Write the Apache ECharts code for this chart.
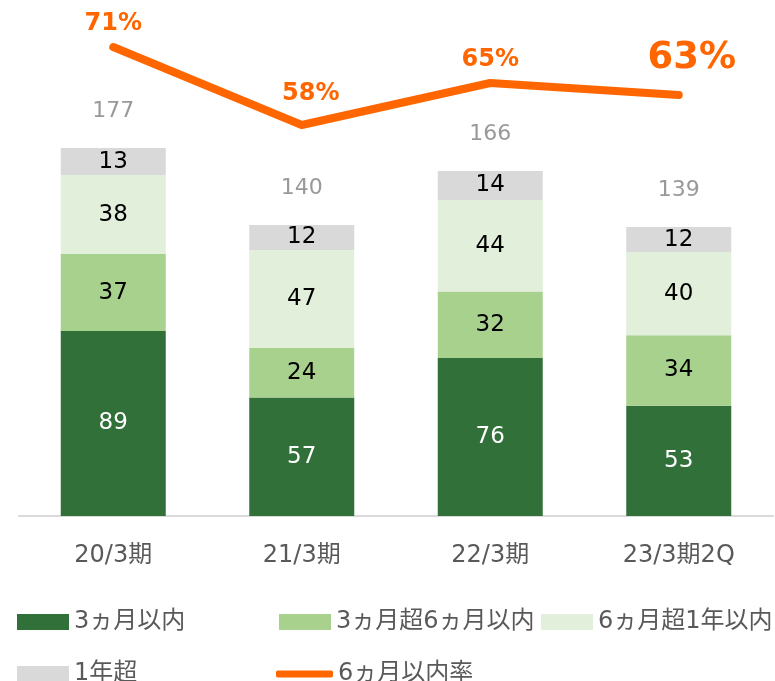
<!DOCTYPE html>
<html>
<head>
<meta charset="utf-8">
<script src="https://cdn.jsdelivr.net/npm/echarts@6/dist/echarts.min.js"></script>
<style>
html, body { margin: 0; padding: 0; background: #fff; }
#main { width: 775px; height: 681px; }
</style>
</head>
<body>
<div id="main"></div>
<script>
// データ
const categories = ['20/3期', '21/3期', '22/3期', '23/3期2Q']
const within3m = [89, 57, 76, 53]
const over3to6m = [37, 24, 32, 34]
const over6to1y = [38, 47, 44, 40]
const over1y = [13, 12, 14, 12]
const totals = [177, 140, 166, 139]
const rate6m = [71, 58, 65, 63]

const seriesNames = ['3ヵ月以内', '3ヵ月超6ヵ月以内', '6ヵ月超1年以内', '1年超', '6ヵ月以内率']
const colors = ['#32703a', '#a9d18e', '#e2efda', '#d9d9d9', '#ff6600']

const font = '"DejaVu Sans", "Noto Sans CJK JP", sans-serif'

// 率ラベルの位置・サイズ調整
const rateLabelStyle = [
    { offset: [0, 0], fontSize: 24 },
    { offset: [9, -8], fontSize: 24 },
    { offset: [0, 0], fontSize: 24 },
    { offset: [13, -7], fontSize: 37 }
]

const chart = echarts.init(document.getElementById('main'))

function barSeries (idx, data, labelColor) {
    return {
        name: seriesNames[idx],
        type: 'bar',
        stack: 'total',
        barWidth: 105,
        data: data,
        itemStyle: { color: colors[idx] },
        label: {
            show: true,
            position: 'inside',
            color: labelColor,
            fontSize: 23,
            fontFamily: font
        },
        emphasis: { disabled: true }
    }
}

function legendAt (name, left, top, extra) {
    return Object.assign({
        data: [name],
        left: left,
        top: top,
        padding: 0,
        icon: 'rect',
        itemWidth: 52,
        itemHeight: 16,
        itemGap: 0,
        selectedMode: false,
        textStyle: { fontSize: 24, color: '#595959', fontFamily: font }
    }, extra || {})
}

chart.setOption({
    animation: false,
    grid: { left: 19, right: 2, top: 40, height: 476 },
    legend: [
        legendAt(seriesNames[0], 17, 610),
        legendAt(seriesNames[1], 279, 610),
        legendAt(seriesNames[2], 541, 610),
        legendAt(seriesNames[3], 17, 662),
        legendAt(seriesNames[4], 276, 662, { icon: 'roundRect', itemWidth: 57, itemHeight: 7 })
    ],
    xAxis: {
        type: 'category',
        data: categories,
        axisLine: { lineStyle: { color: '#d9d9d9', width: 2 } },
        axisTick: { show: false },
        axisLabel: { color: '#595959', fontSize: 24, fontFamily: font, margin: 28 }
    },
    yAxis: [
        { type: 'value', min: 0, max: 229, show: false, splitLine: { show: false } },
        { type: 'value', min: -7.17, max: 72.17, show: false, splitLine: { show: false } }
    ],
    series: [
        barSeries(0, within3m, '#ffffff'),
        barSeries(1, over3to6m, '#000000'),
        barSeries(2, over6to1y, '#000000'),
        barSeries(3, over1y, '#000000'),
        {
            name: '合計',
            type: 'scatter',
            data: totals,
            symbolSize: 1,
            itemStyle: { color: 'rgba(0,0,0,0)' },
            silent: true,
            label: {
                show: true,
                position: 'top',
                distance: 25,
                color: '#808080',
                fontSize: 22,
                fontFamily: font
            }
        },
        {
            name: seriesNames[4],
            type: 'line',
            yAxisIndex: 1,
            data: rate6m.map((v, i) => ({
                value: v,
                label: rateLabelStyle[i]
            })),
            symbol: 'circle',
            symbolSize: 1,
            showSymbol: true,
            lineStyle: { color: colors[4], width: 8, cap: 'round', join: 'round' },
            itemStyle: { color: colors[4] },
            label: {
                show: true,
                position: 'top',
                distance: 11,
                color: colors[4],
                fontWeight: 'bold',
                fontFamily: font,
                formatter: p => p.value + '%'
            },
            z: 5
        }
    ]
})
</script>
</body>
</html>
